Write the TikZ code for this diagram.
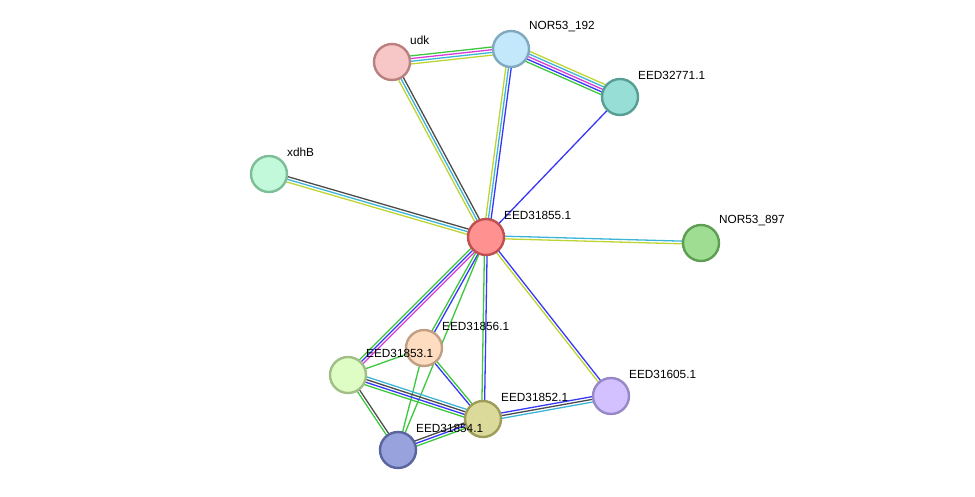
\documentclass[tikz,border=0pt]{standalone}
\usepackage{fontspec}
\setmainfont{Liberation Sans}
\usetikzlibrary{calc,backgrounds}

% evidence colours
\definecolor{cgreen}{RGB}{60,200,60}
\definecolor{cblue}{RGB}{55,55,250}
\definecolor{cmag}{RGB}{215,60,215}
\definecolor{ccyan}{RGB}{60,180,215}
\definecolor{cyel}{RGB}{190,212,50}
\definecolor{cgray}{RGB}{75,75,75}

% one line per colour, side by side
\newcommand{\bundle}[3]{%
  \foreach \col [count=\ii] in {#3} {\xdef\nlines{\ii}}%
  \foreach \col [count=\ii] in {#3} {%
    \pgfmathsetmacro\off{((\nlines+1)/2-\ii)*2.7}%
    \draw[edge,\col] ($(#1)!\off pt!90:(#2)$) -- ($(#2)!\off pt!-90:(#1)$);
  }%
}

\tikzset{
  prot/.style={circle, line width=2.4pt, minimum size=36pt, inner sep=0pt},
  edge/.style={line width=1.3pt},
  lbl/.style={anchor=west, inner sep=0pt, font=\fontsize{11.8}{14}\selectfont}
}

\begin{document}
\begin{tikzpicture}[x=1pt,y=-1pt]
  \useasboundingbox (0,0) rectangle (975,496);
  % proteins
  \node[prot, fill={rgb,255:red,247;green,199;blue,199}, draw={rgb,255:red,186;green,128;blue,128}] (udk) at (392,62) {};
  \node[prot, fill={rgb,255:red,195;green,231;blue,251}, draw={rgb,255:red,128;green,169;blue,192}] (n192) at (511,49) {};
  \node[prot, fill={rgb,255:red,151;green,223;blue,214}, draw={rgb,255:red,87;green,158;blue,148}] (e771) at (620,97) {};
  \node[prot, fill={rgb,255:red,193;green,249;blue,218}, draw={rgb,255:red,125;green,190;blue,153}] (xdhb) at (269,174) {};
  \node[prot, fill={rgb,255:red,255;green,145;blue,145}, draw={rgb,255:red,192;green,80;blue,80}] (e855) at (486,237) {};
  \node[prot, fill={rgb,255:red,158;green,221;blue,146}, draw={rgb,255:red,94;green,158;blue,82}] (n897) at (701,243) {};
  \node[prot, fill={rgb,255:red,253;green,220;blue,192}, draw={rgb,255:red,192;green,159;blue,132}] (e856) at (424,348) {};
  \node[prot, fill={rgb,255:red,222;green,253;blue,196}, draw={rgb,255:red,161;green,190;blue,135}] (e853) at (348,375) {};
  \node[prot, fill={rgb,255:red,220;green,218;blue,154}, draw={rgb,255:red,158;green,156;blue,90}] (e852) at (483,419) {};
  \node[prot, fill={rgb,255:red,210;green,193;blue,254}, draw={rgb,255:red,151;green,136;blue,198}] (e605) at (611,396) {};
  \node[prot, fill={rgb,255:red,152;green,163;blue,222}, draw={rgb,255:red,90;green,101;blue,160}] (e854) at (398,450) {};
  % names
  \node[lbl] (udk-l) at ([shift={(18,-22)}]udk.center) {udk};
  \node[lbl] (n192-l) at ([shift={(18,-22)}]n192.center) {NOR53\_192};
  \node[lbl] (e771-l) at ([shift={(18,-22)}]e771.center) {EED32771.1};
  \node[lbl] (xdhb-l) at ([shift={(18,-22)}]xdhb.center) {xdhB};
  \node[lbl] (e855-l) at ([shift={(18,-22)}]e855.center) {EED31855.1};
  \node[lbl] (n897-l) at ([shift={(18,-22)}]n897.center) {NOR53\_897};
  \node[lbl] (e856-l) at ([shift={(18,-22)}]e856.center) {EED31856.1};
  \node[lbl] (e853-l) at ([shift={(18,-22)}]e853.center) {EED31853.1};
  \node[lbl] (e852-l) at ([shift={(18,-22)}]e852.center) {EED31852.1};
  \node[lbl] (e605-l) at ([shift={(18,-22)}]e605.center) {EED31605.1};
  \node[lbl] (e854-l) at ([shift={(18,-22)}]e854.center) {EED31854.1};
  % links
  \begin{scope}[on background layer]
    \bundle{udk}{n192}{cgreen,cmag,ccyan,cyel}
    \bundle{n192}{e771}{cyel,ccyan,cmag,cblue,cgreen}
    \bundle{udk}{e855}{cgray,ccyan,cyel}
    \bundle{n192}{e855}{cblue,ccyan,cyel}
    \bundle{e771}{e855}{cblue}
    \bundle{xdhb}{e855}{cgray,ccyan,cyel}
    \bundle{e855}{n897}{ccyan,cyel}
    \bundle{e855}{e853}{cmag,cblue,cgreen}
    \bundle{e855}{e856}{cblue,cgreen}
    \bundle{e855}{e854}{cgreen}
    \bundle{e855}{e852}{cblue,cgreen}
    \bundle{e855}{e605}{cblue,cyel}
    \bundle{e856}{e853}{cgreen}
    \bundle{e856}{e852}{cgreen,cblue}
    \bundle{e856}{e854}{cgreen}
    \bundle{e853}{e852}{ccyan,cgray,cblue,cgreen}
    \bundle{e853}{e854}{cgray,cgreen}
    \bundle{e854}{e852}{cgray,cblue,cgreen}
    \bundle{e852}{e605}{cblue,cgray,ccyan}
  \end{scope}
\end{tikzpicture}
\end{document}
